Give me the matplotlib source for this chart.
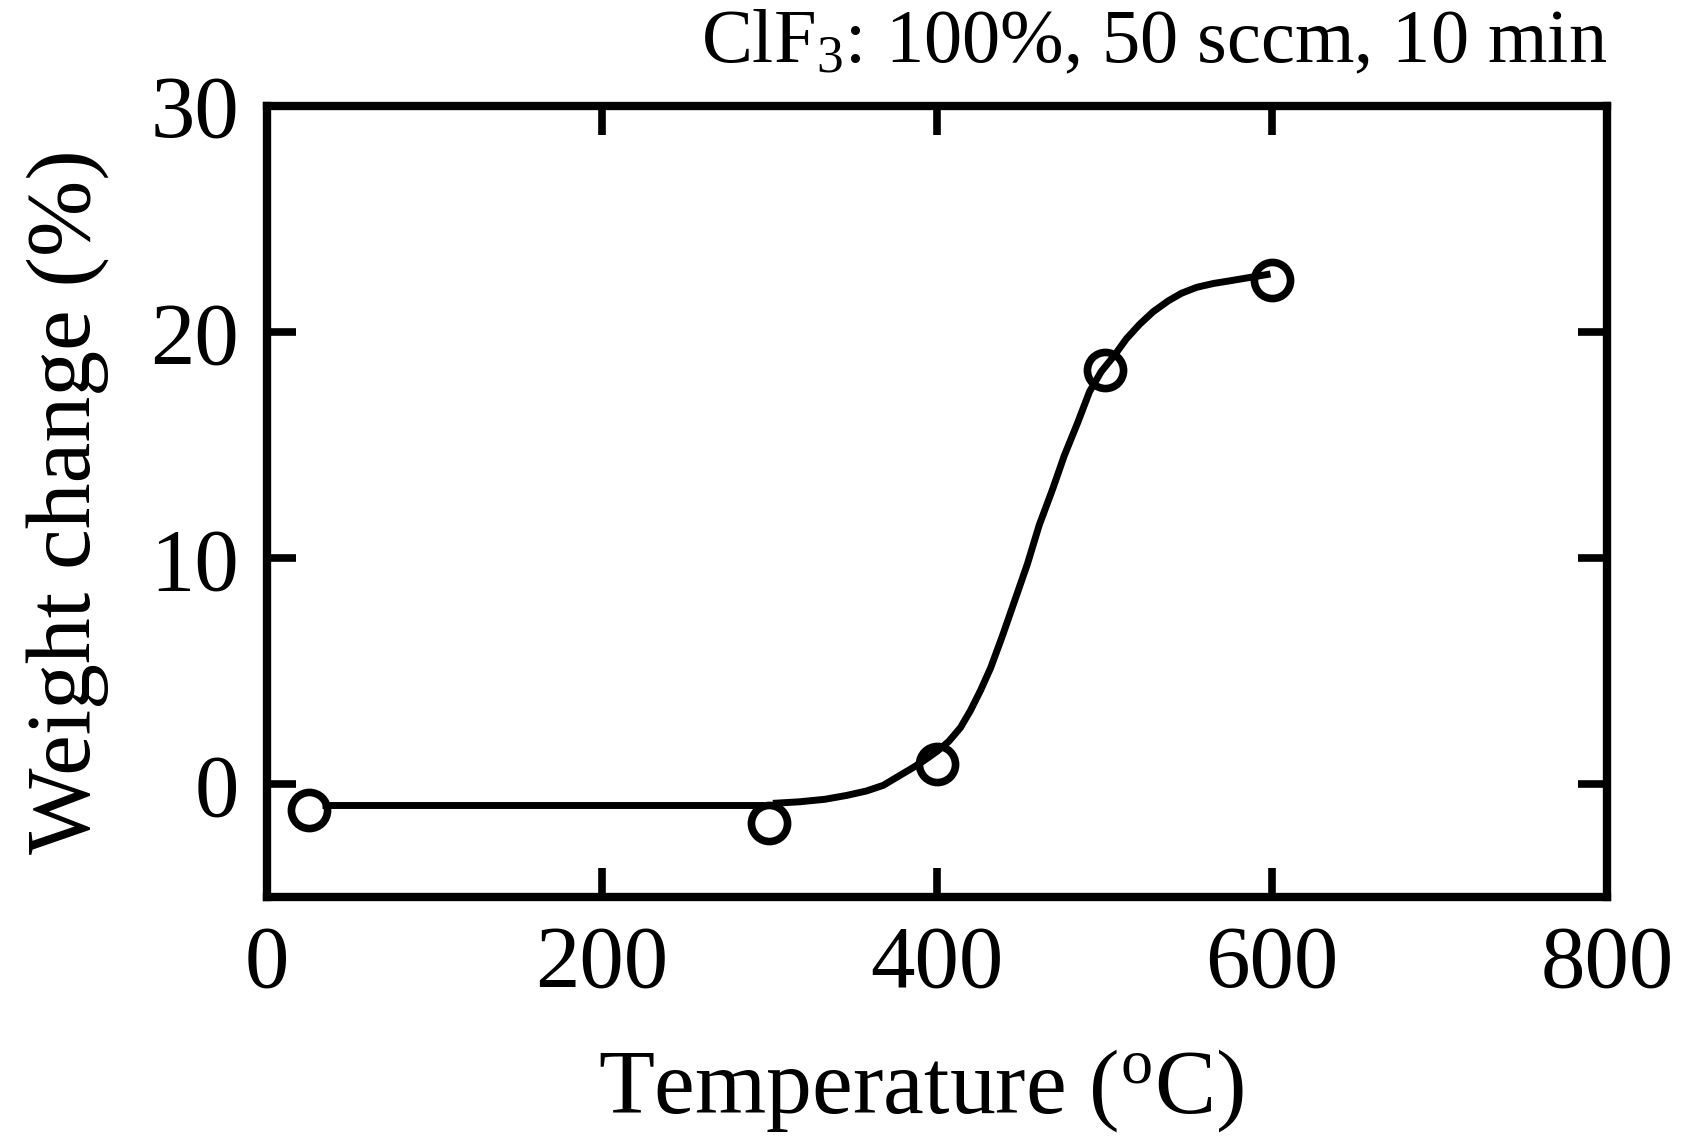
import matplotlib
matplotlib.use("Agg")
import matplotlib.pyplot as plt

plt.rcParams['font.family'] = ['Liberation Serif', 'DejaVu Serif']
plt.rcParams['mathtext.fontset'] = 'custom'
plt.rcParams['mathtext.rm'] = 'Liberation Serif'
plt.rcParams['mathtext.it'] = 'Liberation Serif:italic'

# measured points
temp = [25, 300, 400, 500, 600]
weight = [-1.16, -1.74, 0.87, 18.3, 22.3]

# guide line, flat part then hand-drawn curve
flat_x = [33, 297]
flat_y = [-0.92, -0.92]
curve_x = [302, 318, 333, 346, 358, 368, 377, 385, 392, 400, 407, 414, 420, 426, 432,
           439, 446, 454, 461, 469, 476, 484, 491, 498, 506, 513, 521, 529, 538, 546,
           555, 565, 575, 587, 599]
curve_y = [-0.85, -0.78, -0.67, -0.50, -0.30, -0.05, 0.35, 0.70, 1.03, 1.45, 1.89, 2.50,
           3.26, 4.15, 5.14, 6.55, 8.04, 9.75, 11.46, 13.05, 14.54, 16.00, 17.36, 18.25,
           18.98, 19.70, 20.35, 20.90, 21.38, 21.72, 21.98, 22.15, 22.27, 22.42, 22.57]

xticks = [0, 200, 400, 600, 800]
yticks = [0, 10, 20, 30]

fig = plt.figure(figsize=(16.99, 11.40), dpi=100)
ax = fig.add_axes([0.157, 0.213, 0.789, 0.694])

ax.plot(temp, weight, 'o', ms=26, mfc='white', mec='black', mew=5.5, zorder=2)
ax.plot(flat_x, flat_y, '-', color='black', lw=5, solid_capstyle='butt', zorder=3)
ax.plot(curve_x, curve_y, '-', color='black', lw=5, solid_capstyle='butt', zorder=3)

ax.set_xlim(0, 800)
ax.set_ylim(-5, 30)
ax.set_xticks(xticks)
ax.set_yticks(yticks)
ax.tick_params(direction='in', length=21, width=5.5, top=True, right=True,
               labelsize=64, pad=20)
for s in ax.spines.values():
    s.set_linewidth(6)

ax.set_xlabel(r'Temperature ($^{\rm o}$C)', fontsize=66, labelpad=30)
ax.xaxis.label.set_x(0.488)
ax.set_ylabel('Weight change (%)', fontsize=66, labelpad=30)
ax.text(1.0, 1.035, r'ClF$_3$: 100%, 50 sccm, 10 min', transform=ax.transAxes,
        ha='right', va='bottom', fontsize=55)

fig.savefig('out.png', dpi=100)
